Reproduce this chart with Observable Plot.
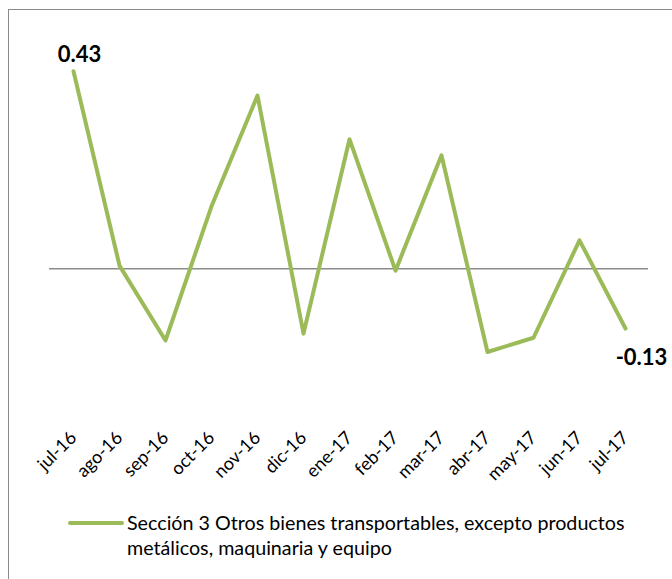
<!DOCTYPE html>
<html>
<head>
<meta charset="utf-8">
<script src="https://cdn.jsdelivr.net/npm/d3@7"></script>
<script src="https://cdn.jsdelivr.net/npm/@observablehq/plot@0.6"></script>
<style>
  html, body { margin: 0; padding: 0; background: #fff; }
  #wrap { position: relative; width: 672px; height: 579px; overflow: hidden; font-family: Lato, "Open Sans", sans-serif; }
  #frame { position: absolute; left: 8px; top: 9px; width: 700px; height: 620px; border: 1.5px solid #8a8a8a; box-sizing: border-box; }
  #chart { position: absolute; left: 0; top: 0; }
  #legend { position: absolute; left: 68px; top: 510px; width: 600px; }
  #legend .sw { position: absolute; left: 0; top: 11px; width: 56px; height: 4px; background: #9BBB59; border-radius: 2px; }
  #legend .tx { position: absolute; left: 59px; top: 0; font-size: 19.7px; line-height: 25px; color: #000; width: 560px; }
</style>
</head>
<body>
<div id="wrap">
  <div id="frame"></div>
  <div id="chart"></div>
  <div id="legend"><div class="sw"></div><div class="tx" id="legtext"></div></div>
</div>
<script>
const months = ["jul-16","ago-16","sep-16","oct-16","nov-16","dic-16","ene-17","feb-17","mar-17","abr-17","may-17","jun-17","jul-17"];
const values = [0.43, 0.007, -0.156, 0.136, 0.377, -0.141, 0.282, -0.004, 0.247, -0.181, -0.150, 0.062, -0.13];
const seriesName = "Sección 3 Otros bienes transportables, excepto productos metálicos, maquinaria y equipo";

const data = months.map((m, i) => ({month: m, value: values[i]}));
const labeled = [data[0], data[data.length - 1]];

const chart = Plot.plot({
  width: 672,
  height: 500,
  marginLeft: 49,
  marginRight: 24,
  marginTop: 38.5,
  marginBottom: 116.8,
  style: {fontFamily: "Lato, 'Open Sans', sans-serif", background: "transparent", overflow: "visible"},
  x: {type: "point", domain: months, padding: 0.5, label: null},
  y: {domain: [-0.25, 0.5], axis: null},
  marks: [
    Plot.ruleY([0], {stroke: "#8c8c8c", strokeWidth: 1.5}),
    Plot.line(data, {x: "month", y: "value", stroke: "#9BBB59", strokeWidth: 4, strokeLinejoin: "round", strokeLinecap: "round"}),
    Plot.text([labeled[0]], {x: "month", y: "value", text: d => d.value.toFixed(2), dx: 6, dy: -16, fontSize: 22, fontWeight: "bold", fill: "#000"}),
    Plot.text([labeled[1]], {x: "month", y: "value", text: d => d.value.toFixed(2), dx: 16, dy: 29, fontSize: 22, fontWeight: "bold", fill: "#000"}),
    Plot.axisX({tickSize: 0, tickPadding: 51, tickRotate: -45, fontSize: 18, fill: "#000", label: null})
  ]
});
document.getElementById("chart").appendChild(chart);
document.getElementById("legtext").textContent = seriesName;
</script>
</body>
</html>
